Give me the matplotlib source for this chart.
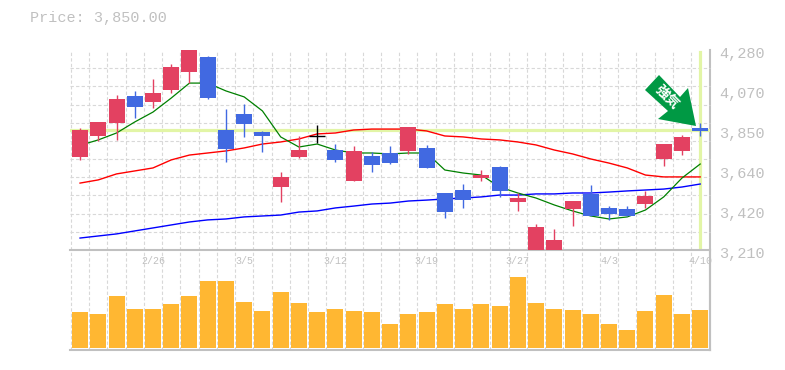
#!/usr/bin/env python3

import numpy as np
import matplotlib
matplotlib.use("Agg")
import matplotlib.pyplot as plt
from matplotlib.patches import Polygon
from matplotlib.transforms import ScaledTranslation

W, H = 785, 370
L, R = 70, 709.5
TOP, MID, BOT = 50, 250, 350

PRICE_MAX, PRICE_MIN = 4280, 3210
CURRENT_PRICE = 3850
price_labels = ["4,280", "4,070", "3,850", "3,640", "3,420", "3,210"]
date_idx = [4, 9, 14, 19, 24, 29, 34]
date_labels = ["2/26", "3/5", "3/12", "3/19", "3/27", "4/3", "4/10"]

opens = [3708, 3820, 3889, 4034, 4002, 4066, 4162, 4243, 3852, 3938, 3841, 3547, 3708, 3820,
         3745, 3579, 3713, 3729, 3740, 3756, 3515, 3531, 3595, 3654, 3467, 3210, 3210, 3429, 3510, 3435, 3429, 3456, 3697, 3740, 3863]
closes = [3852, 3895, 4018, 3975, 4050, 4189, 4280, 4023, 3750, 3884, 3820, 3601, 3745, 3820,
          3692, 3740, 3665, 3675, 3868, 3649, 3413, 3477, 3611, 3526, 3488, 3333, 3264, 3472, 3392, 3403, 3392, 3499, 3777, 3815, 3847]
highs = [3863, 3895, 4039, 4061, 4125, 4205, 4280, 4248, 3964, 3991, 3847, 3627, 3820, 3879,
         3777, 3766, 3734, 3766, 3868, 3772, 3515, 3563, 3638, 3659, 3515, 3349, 3322, 3472, 3558, 3445, 3445, 3526, 3777, 3825, 3889]
lows = [3692, 3793, 3799, 3916, 3970, 4050, 4103, 4018, 3681, 3815, 3734, 3467, 3702, 3782,
        3681, 3579, 3627, 3670, 3724, 3649, 3381, 3435, 3579, 3494, 3419, 3210, 3210, 3338, 3392, 3371, 3392, 3435, 3659, 3718, 3820]

ma_short = [3770, 3799, 3836, 3895, 3948, 4023, 4103, 4103, 4061, 4029, 3954, 3815, 3761, 3777,
            3745, 3729, 3729, 3724, 3729, 3729, 3638, 3622, 3611, 3547, 3515, 3488, 3451, 3419, 3392, 3376, 3387, 3424, 3494, 3595, 3670]
ma_mid = [3568, 3585, 3617, 3633, 3649, 3692, 3718, 3729, 3740, 3756, 3777, 3788, 3804, 3831,
          3836, 3852, 3857, 3857, 3857, 3847, 3820, 3815, 3804, 3799, 3788, 3772, 3745, 3724, 3697, 3675, 3649, 3611, 3601, 3601, 3601]
ma_long = [3274, 3285, 3296, 3312, 3328, 3344, 3360, 3371, 3376, 3387, 3392, 3397, 3413, 3419,
           3435, 3445, 3456, 3461, 3472, 3477, 3483, 3488, 3494, 3504, 3504, 3510, 3510, 3515, 3515, 3520, 3526, 3531, 3536, 3547, 3563]

volumes = [36, 34, 52, 39, 39, 44, 52, 67, 67, 46, 37, 56, 45, 36, 39, 37, 36, 24,
           34, 36, 44, 39, 44, 42, 71, 45, 39, 38, 34, 24, 18, 37, 53, 34, 38]

# pixel outline of the signal arrow
arrow_x = [659, 645, 668, 658, 696, 688, 680]
arrow_y = [75, 90, 111, 119, 126, 88, 97]

RED = "#e34161"
BLUE = "#4169e1"
GRAY = "#c0c0c0"
GRID = "#d8d8d8"
HILITE = "#e2f5a6"
ORANGE = "#ffb732"
DASH = (0, (3, 2))

plt.rcParams["font.family"] = ["Liberation Mono", "DejaVu Sans Mono"]

fig = plt.figure(figsize=(W / 100, H / 100), dpi=100)
ax = fig.add_axes([L / W, 1 - MID / H, (R - L) / W, (MID - TOP) / H], zorder=2)
ax_v = fig.add_axes([L / W, 1 - BOT / H, (R - L) / W, (BOT - MID) / H], zorder=1)
ax.patch.set_alpha(0)

n = len(opens)
xs = np.arange(n)
xlim = (-0.55, n - 1 + 0.51)
bar_w = 16 / 18.24
grid_x = np.arange(n) - 0.5

# price panel
ax.set_xlim(xlim)
ax.set_ylim(PRICE_MIN, PRICE_MAX)
ax.set_xticks(date_idx)
ax.set_xticklabels(date_labels, fontsize=7.2, color=GRAY)
ax.set_xticks(grid_x, minor=True)
ax.set_yticks(np.linspace(PRICE_MAX, PRICE_MIN, 6))
ax.set_yticklabels(price_labels, fontsize=11, color=GRAY)
ax.set_yticks(np.linspace(PRICE_MIN, PRICE_MAX, 12), minor=True)
ax.yaxis.tick_right()
ax.tick_params(axis="both", which="both", length=0)
ax.tick_params(axis="x", pad=4)
ax.tick_params(axis="y", pad=7)
ax.grid(True, which="minor", color=GRID, linestyle=DASH, linewidth=0.8, clip_on=False)
ax.set_axisbelow(True)
shift = ScaledTranslation(0, -3 / 100, fig.dpi_scale_trans)
for lab in ax.get_yticklabels():
    lab.set_transform(lab.get_transform() + shift)
for side in ["top", "left", "right"]:
    ax.spines[side].set_visible(False)
ax.spines["bottom"].set_color(GRAY)
ax.spines["bottom"].set_linewidth(1.5)

ax.axhline(CURRENT_PRICE, color=HILITE, linewidth=2.3, zorder=1)
ax.axvline(n - 1, color=HILITE, linewidth=2.3, ymax=0.99, zorder=1)

ax.plot(xs, ma_long, color="#0000ff", linewidth=1, zorder=2)
ax.plot(xs, ma_mid, color="#ff0000", linewidth=1, zorder=2)
ax.plot(xs, ma_short, color="#008000", linewidth=0.9, zorder=2)

for i in range(n):
    if opens[i] == closes[i]:
        c = "black"
    elif closes[i] > opens[i]:
        c = RED
    else:
        c = BLUE
    ax.vlines(xs[i], lows[i], highs[i], color=c, linewidth=1, zorder=3)
    if c == "black":
        ax.hlines(opens[i], xs[i] - bar_w / 2, xs[i] + bar_w / 2, color=c, linewidth=1, zorder=3)
    else:
        ax.bar(xs[i], abs(closes[i] - opens[i]), bottom=min(opens[i], closes[i]),
               width=bar_w, color=c, linewidth=0, zorder=3)

# volume panel
ax_v.set_xlim(xlim)
ax_v.set_ylim(-2, 98)
ax_v.set_xticks(grid_x, minor=True)
ax_v.set_xticks([])
ax_v.set_yticks([])
ax_v.tick_params(axis="both", which="both", length=0)
ax_v.grid(True, axis="x", which="minor", color=GRID, linestyle=DASH, linewidth=0.8, clip_on=False)
ax_v.set_axisbelow(True)
ax_v.bar(xs, volumes, width=bar_w, color=ORANGE, linewidth=0, zorder=3)
for side in ["top", "left"]:
    ax_v.spines[side].set_visible(False)
ax_v.spines["bottom"].set_color(GRAY)
ax_v.spines["bottom"].set_linewidth(1.5)
ax_v.spines["right"].set_color(GRAY)
ax_v.spines["right"].set_linewidth(1.5)

# right border runs the full height of both panels
fig.add_artist(plt.Line2D([R / W, R / W], [1 - BOT / H, 1 - TOP / H], color=GRAY, linewidth=1.5))

fig.add_artist(Polygon(np.column_stack([np.array(arrow_x) / W, 1 - np.array(arrow_y) / H]),
                       closed=True, facecolor="#009944", edgecolor="none",
                       transform=fig.transFigure, zorder=5))
fig.text(667 / W, 1 - 97 / H, "強気", color="white", fontsize=10, fontweight="bold",
         rotation=-45, ha="center", va="center", family=["Noto Sans CJK JP", "DejaVu Sans"], zorder=6)

fig.text(30 / W, 1 - 18 / H, "Price: 3,850.00", color=GRAY, fontsize=10.9, va="center", ha="left")

fig.savefig("out.png", dpi=100)
